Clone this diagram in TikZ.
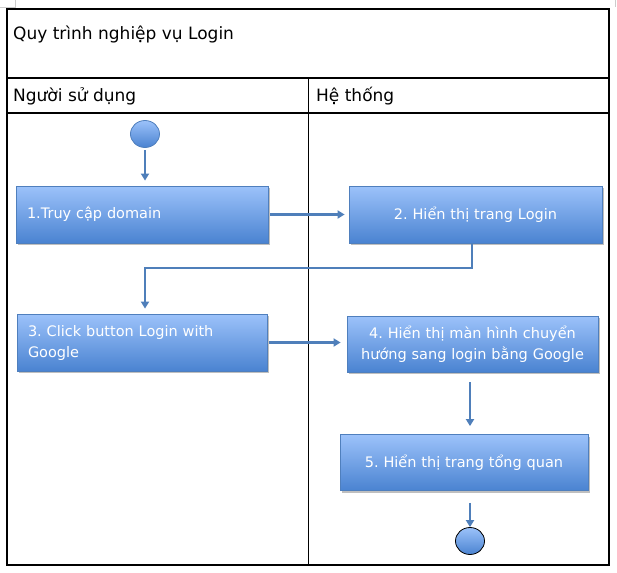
\documentclass[tikz,border=0pt]{standalone}
\usepackage{fontspec}
\setmainfont{DejaVu Sans}
\frenchspacing
\usetikzlibrary{calc,arrows.meta,shapes.geometric}
\definecolor{boxtop}{HTML}{9CC2FA}
\definecolor{boxbot}{HTML}{4A83D1}
\definecolor{boxline}{HTML}{4F7FBD}
\definecolor{arrcol}{HTML}{4F7FBA}
\tikzset{
  stepbox/.style={draw=boxline, line width=0.8pt, top color=boxtop, bottom color=boxbot,
    minimum height=57pt, inner xsep=11pt, inner ysep=0pt, text=white,
    font=\fontsize{14.5}{21}\selectfont,
    preaction={fill=black!25, transform canvas={xshift=1.5pt,yshift=-2pt}}},
  dot/.style={ellipse, draw, line width=0.8pt, top color=boxtop, bottom color=boxbot,
    minimum width=29pt, minimum height=27pt, inner sep=0pt},
  arr/.style={draw=arrcol, line width=2.4pt, -{Triangle[length=7pt,width=8pt]}},
  frame/.style={line width=1.3pt, black},
  lbl/.style={anchor=base west, inner sep=0pt, font=\fontsize{17}{20}\selectfont},
}
\begin{document}
\begin{tikzpicture}[x=1pt,y=-1pt]
\useasboundingbox (0,0) rectangle (617,572);
% crop marks
\draw[black!20, line width=0.6pt] (15,0) -- (15,7) -- (0,7);
\draw[black!20, line width=0.6pt] (615,0) -- (615,7);
% table
\draw[frame] (7,9) rectangle (609,565);
\draw[frame] (7,78) -- (609,78);
\draw[frame] (7,113) -- (609,113);
\draw[line width=0.8pt] (308,78) -- (308,565);
\node[lbl] (title) at (13,40) {Quy trình nghiệp vụ Login};
\node[lbl] (h1) at (13,102) {Người sử dụng};
\node[lbl] (h2) at (316,102) {Hệ thống};
% nodes
\node[dot, draw=boxline] (start) at (145,134) {};
\node[stepbox, minimum width=252pt, text width=230pt, align=left] (b1) at (142,214.5) {1.Truy cập domain};
\node[stepbox, minimum width=253pt, text width=231pt, align=center] (b2) at (475.5,214.5) {2. Hiển thị trang Login};
\node[stepbox, minimum width=250pt, text width=228pt, align=left] (b3) at (142,342.5) {3. Click button Login with\\Google};
\node[stepbox, minimum width=251pt, minimum height=56pt, text width=229pt, align=center] (b4) at (472.5,344) {4. Hiển thị màn hình chuyển\\hướng sang login bằng Google};
\node[stepbox, minimum width=248pt, minimum height=56pt, text width=226pt, align=center] (b5) at (464,462.5) {5. Hiển thị trang tổng quan};
\node[dot, draw=black] (end) at (470,541) {};
% connectors
\draw[arr, shorten <=2.5pt, shorten >=5pt] (start.south) -- (b1.north -| start.south);
\draw[arr, shorten <=2pt, shorten >=4pt] (b1.east) -- (b2.west |- b1.east);
\coordinate (bendR) at (472,268);
\coordinate (bendL) at (145,268);
\draw[arr, shorten >=5pt] (b2.south -| bendR) -- (bendR) -- (bendL) -- (b3.north -| bendL);
\draw[arr, shorten <=2pt, shorten >=6pt] (b3.east) -- (b4.west |- b3.east);
\draw[arr, shorten <=10pt, shorten >=8pt] (b4.south -| end.north) -- (b5.north -| end.north);
\draw[arr, shorten <=12pt, shorten >=0pt] (b5.south -| end.north) -- (end.north);
\end{tikzpicture}
\end{document}
